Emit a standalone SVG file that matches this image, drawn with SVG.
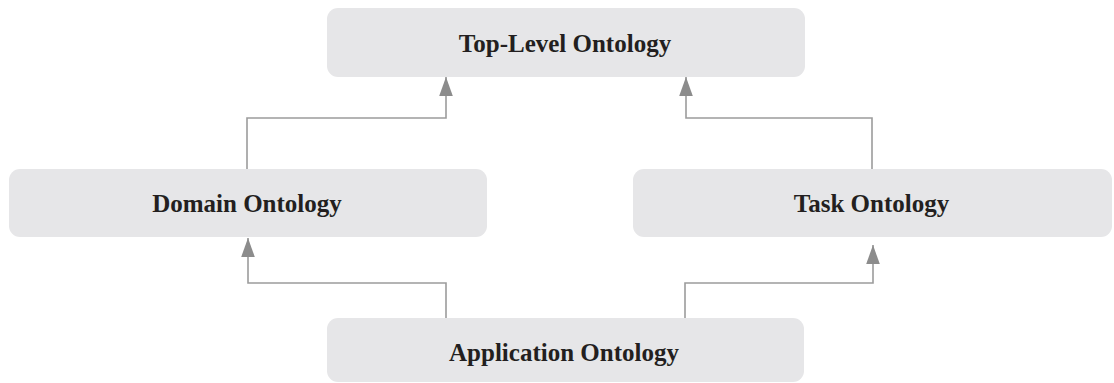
<svg xmlns="http://www.w3.org/2000/svg" width="1114" height="383" viewBox="0 0 1114 383">
  <style>
    .box { fill: #e6e6e8; }
    .label { font-family: "Liberation Serif", "Times New Roman", serif; font-weight: bold; font-size: 25px; fill: #231f20; text-anchor: middle; }
    .link { fill: none; stroke: #9c9c9c; stroke-width: 1.6; marker-end: url(#arrow); }
  </style>
  <defs>
    <!-- filled triangular arrowhead, tip at the end of the path -->
    <marker id="arrow" markerUnits="userSpaceOnUse" markerWidth="20" markerHeight="16" viewBox="0 -8 20 16" refX="19" refY="0" orient="auto">
      <path d="M0,-6.8 L19,0 L0,6.8 Z" fill="#8c8c8c"/>
    </marker>
  </defs>
  <rect width="1114" height="383" fill="#ffffff"/>

  <g id="connectors">
    <!-- Domain -> Top-Level -->
    <path class="link" d="M247,169 V118 H446 V77"/>
    <!-- Task -> Top-Level -->
    <path class="link" d="M872,169 V118 H686 V77"/>
    <!-- Application -> Domain -->
    <path class="link" d="M446,318 V283 H248 V238"/>
    <!-- Application -> Task -->
    <path class="link" d="M685,318 V283 H873 V245"/>
  </g>

  <g id="top-level">
    <rect class="box" x="327" y="8" width="478" height="69" rx="11"/>
    <text class="label" x="565" y="52">Top-Level Ontology</text>
  </g>
  <g id="domain">
    <rect class="box" x="9" y="169" width="478" height="68" rx="11"/>
    <text class="label" x="247" y="212">Domain Ontology</text>
  </g>
  <g id="task">
    <rect class="box" x="633" y="169" width="479" height="68" rx="11"/>
    <text class="label" x="871.5" y="212">Task Ontology</text>
  </g>
  <g id="application">
    <rect class="box" x="327" y="318" width="477" height="64" rx="11"/>
    <text class="label" x="564" y="361">Application Ontology</text>
  </g>
</svg>
